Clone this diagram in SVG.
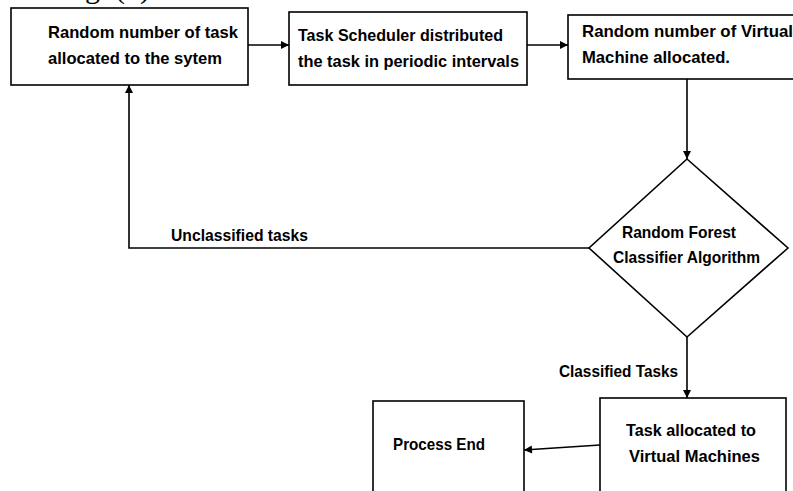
<svg xmlns="http://www.w3.org/2000/svg" width="793" height="491" viewBox="0 0 793 491">
  <style>
    .box { fill: #ffffff; stroke: #000000; stroke-width: 1.6; }
    .lbl { font-family: "Liberation Sans", Arial, sans-serif; font-weight: bold; font-size: 16.5px; fill: #000000; }
    .cap { font-family: "Liberation Serif", "Times New Roman", serif; font-size: 30px; fill: #000000; }
    .wire { fill: none; stroke: #000000; stroke-width: 1.6; }
  </style>
  <defs>
    <marker id="arrowLg" viewBox="0 0 10 10" refX="10" refY="5" markerWidth="9" markerHeight="8" orient="auto" markerUnits="userSpaceOnUse">
      <path d="M0,0 L10,5 L0,10 z" fill="#000000"/>
    </marker>
  </defs>
  <rect x="0" y="0" width="793" height="491" fill="#ffffff"/>

  <!-- figure caption, clipped at the top edge -->
  <text class="cap" x="60" y="-2">Fig. (1)</text>

  <g id="connectors">
    <line class="wire" x1="248" y1="45" x2="289" y2="45" marker-end="url(#arrowLg)"/>
    <line class="wire" x1="527" y1="45" x2="568" y2="45" marker-end="url(#arrowLg)"/>
    <line class="wire" x1="687" y1="79" x2="687" y2="159" marker-end="url(#arrowLg)"/>
    <polyline class="wire" points="589,248 129,248 129,85" marker-end="url(#arrowLg)"/>
    <line class="wire" x1="687" y1="337" x2="687" y2="398" marker-end="url(#arrowLg)"/>
    <line class="wire" x1="600" y1="445" x2="524" y2="450" marker-end="url(#arrowLg)"/>
    <text class="lbl" x="171" y="241" textLength="137" lengthAdjust="spacingAndGlyphs">Unclassified tasks</text>
    <text class="lbl" x="559" y="377" textLength="119" lengthAdjust="spacingAndGlyphs">Classified Tasks</text>
  </g>

  <g id="task-input">
    <rect class="box" x="11" y="8" width="237" height="77"/>
    <text class="lbl" x="48" y="38" textLength="190" lengthAdjust="spacingAndGlyphs">Random number of task</text>
    <text class="lbl" x="48" y="64" textLength="174" lengthAdjust="spacingAndGlyphs">allocated to the sytem</text>
  </g>

  <g id="task-scheduler">
    <rect class="box" x="289" y="12" width="238" height="73"/>
    <text class="lbl" x="298" y="41" textLength="205" lengthAdjust="spacingAndGlyphs">Task Scheduler distributed</text>
    <text class="lbl" x="298" y="67" textLength="221" lengthAdjust="spacingAndGlyphs">the task in periodic intervals</text>
  </g>

  <g id="vm-allocation">
    <rect class="box" x="568" y="15" width="240" height="64"/>
    <text class="lbl" x="582" y="37" textLength="211" lengthAdjust="spacingAndGlyphs">Random number of Virtual</text>
    <text class="lbl" x="582" y="63" textLength="148" lengthAdjust="spacingAndGlyphs">Machine allocated.</text>
  </g>

  <g id="classifier">
    <polygon class="box" points="687,159 788,248 687,337 589,248"/>
    <text class="lbl" x="622" y="238" textLength="114" lengthAdjust="spacingAndGlyphs">Random Forest</text>
    <text class="lbl" x="613" y="263" textLength="147" lengthAdjust="spacingAndGlyphs">Classifier Algorithm</text>
  </g>

  <g id="vm-assignment">
    <rect class="box" x="600" y="398" width="186" height="100"/>
    <text class="lbl" x="626" y="436" textLength="130" lengthAdjust="spacingAndGlyphs">Task allocated to</text>
    <text class="lbl" x="629" y="462" textLength="131" lengthAdjust="spacingAndGlyphs">Virtual Machines</text>
  </g>

  <g id="process-end">
    <rect class="box" x="373" y="401" width="151" height="100"/>
    <text class="lbl" x="393" y="450" textLength="92" lengthAdjust="spacingAndGlyphs">Process End</text>
  </g>
</svg>
